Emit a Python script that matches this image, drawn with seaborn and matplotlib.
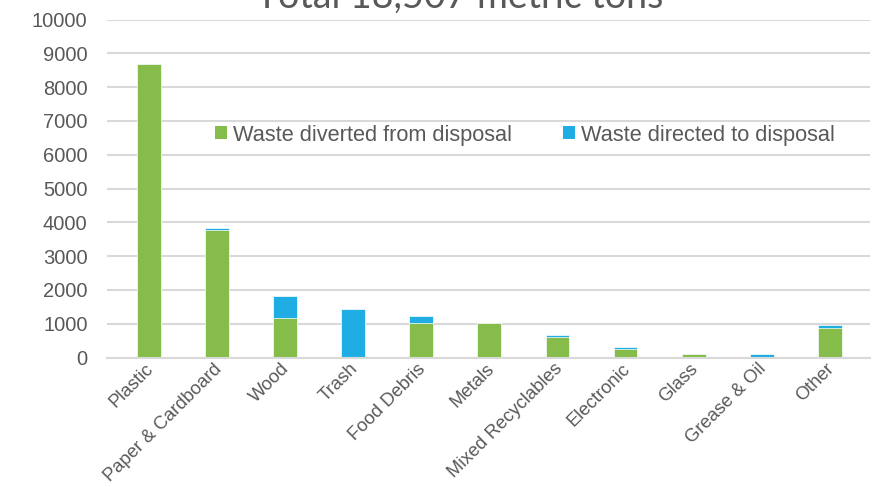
import matplotlib
matplotlib.use("Agg")
import matplotlib.pyplot as plt
import matplotlib.transforms as mtransforms
import seaborn as sns
import pandas as pd
from matplotlib.patches import Patch

categories = ["Plastic", "Paper & Cardboard", "Wood", "Trash", "Food Debris", "Metals",
              "Mixed Recyclables", "Electronic", "Glass", "Grease & Oil", "Other"]
diverted = [8670, 3760, 1180, 0, 1035, 1030, 600, 240, 100, 0, 885]
directed = [0, 70, 635, 1440, 200, 0, 70, 60, 0, 95, 70]
yticks = [0, 1000, 2000, 3000, 4000, 5000, 6000, 7000, 8000, 9000, 10000]
title = "Total 18,507 metric tons"
series_names = ["Waste diverted from disposal", "Waste directed to disposal"]

green = "#86BC4A"
blue = "#20ADE3"
txt = "#595959"
grid = "#D9D9D9"

df = pd.DataFrame({"category": categories, "diverted": diverted, "directed": directed})
df["total"] = df["diverted"] + df["directed"]

sns.set_theme(style="white")
plt.rcParams["font.family"] = ["Liberation Sans", "DejaVu Sans"]

fig = plt.figure(figsize=(8.82, 4.87), dpi=100)
ax = fig.add_axes([107 / 882, 1 - 357.5 / 487, (870 - 107) / 882, (357.5 - 19.5) / 487])

sns.barplot(data=df, x="category", y="total", color=blue, width=0.35, ax=ax,
            saturation=1, edgecolor="white", linewidth=0.5)
sns.barplot(data=df, x="category", y="diverted", color=green, width=0.35, ax=ax,
            saturation=1, edgecolor="white", linewidth=0.5)

ax.set_ylim(0, 10000)
ax.set_xlim(-0.5 - 7.6 / 68.13, 10.5 + 6 / 68.13)
ax.set_yticks(yticks)
ax.set_yticklabels([str(v) for v in yticks])
ax.yaxis.grid(True, color=grid, linewidth=1.5)
ax.set_axisbelow(True)
for s in ["top", "right", "left"]:
    ax.spines[s].set_visible(False)
ax.spines["bottom"].set_color(grid)
ax.spines["bottom"].set_linewidth(1.5)
ax.tick_params(axis="both", length=0, colors=txt)
ax.tick_params(axis="y", pad=14, labelsize=14.5)
ax.set_xlabel("")
ax.set_ylabel("")
ax.set_xticks(range(len(categories)))
ax.set_xticklabels(categories, rotation=45, ha="right", rotation_mode="anchor", color=txt, fontsize=13.3)
ax.tick_params(axis="x", pad=2)
offset = mtransforms.ScaledTranslation(-4 / 100, 0, fig.dpi_scale_trans)
for lab in ax.get_xticklabels():
    lab.set_transform(lab.get_transform() + offset)

handles = [Patch(facecolor=green, edgecolor="none"), Patch(facecolor=blue, edgecolor="none")]
ax.legend(handles, series_names, ncol=2, frameon=False, loc="center",
          bbox_to_anchor=((525 - 107) / 763, (357.5 - 135) / 338),
          handlelength=0.55, handleheight=0.55, handletextpad=0.3, columnspacing=2.3,
          fontsize=15.7, labelcolor=txt)

fig.text(460 / 882, 1 - 8 / 487, title, ha="center", va="baseline", fontsize=27,
         color=txt, family=["Lato", "DejaVu Sans"])

fig.savefig("out.png", dpi=100)
